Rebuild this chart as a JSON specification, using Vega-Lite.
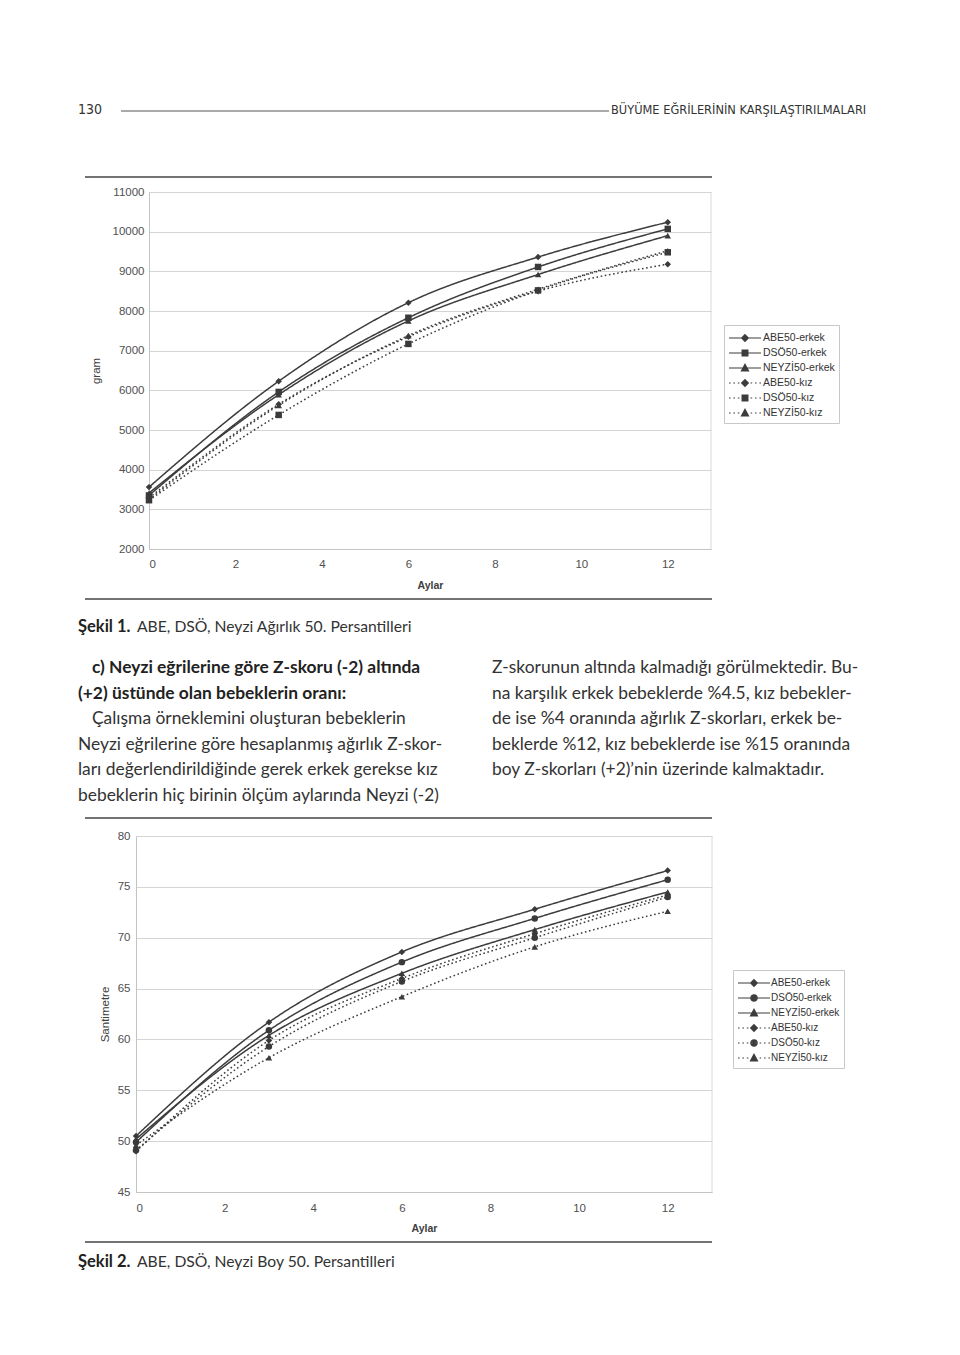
{
  "$schema": "https://vega.github.io/schema/vega-lite/v6.json",
  "width": 960,
  "height": 1355,
  "autosize": {"type": "none"},
  "padding": 0,
  "background": "white",
  "config": {
    "view": {"stroke": null},
    "font": "Liberation Sans",
    "axis": {"labelFont": "Liberation Sans", "titleFont": "Liberation Sans", "labelColor": "#505050", "titleColor": "#404040"}
  },
  "datasets": {
    "agirlik": [
      {"seri": "ABE50-erkek", "kaynak": "ABE", "cinsiyet": "erkek", "ay": 0, "gram": 3560},
      {"seri": "ABE50-erkek", "kaynak": "ABE", "cinsiyet": "erkek", "ay": 3, "gram": 6230},
      {"seri": "ABE50-erkek", "kaynak": "ABE", "cinsiyet": "erkek", "ay": 6, "gram": 8210},
      {"seri": "ABE50-erkek", "kaynak": "ABE", "cinsiyet": "erkek", "ay": 9, "gram": 9360},
      {"seri": "ABE50-erkek", "kaynak": "ABE", "cinsiyet": "erkek", "ay": 12, "gram": 10240},
      {"seri": "DSÖ50-erkek", "kaynak": "DSÖ", "cinsiyet": "erkek", "ay": 0, "gram": 3350},
      {"seri": "DSÖ50-erkek", "kaynak": "DSÖ", "cinsiyet": "erkek", "ay": 3, "gram": 5960},
      {"seri": "DSÖ50-erkek", "kaynak": "DSÖ", "cinsiyet": "erkek", "ay": 6, "gram": 7830},
      {"seri": "DSÖ50-erkek", "kaynak": "DSÖ", "cinsiyet": "erkek", "ay": 9, "gram": 9110},
      {"seri": "DSÖ50-erkek", "kaynak": "DSÖ", "cinsiyet": "erkek", "ay": 12, "gram": 10070},
      {"seri": "NEYZİ50-erkek", "kaynak": "NEYZİ", "cinsiyet": "erkek", "ay": 0, "gram": 3410},
      {"seri": "NEYZİ50-erkek", "kaynak": "NEYZİ", "cinsiyet": "erkek", "ay": 3, "gram": 5890},
      {"seri": "NEYZİ50-erkek", "kaynak": "NEYZİ", "cinsiyet": "erkek", "ay": 6, "gram": 7750},
      {"seri": "NEYZİ50-erkek", "kaynak": "NEYZİ", "cinsiyet": "erkek", "ay": 9, "gram": 8920},
      {"seri": "NEYZİ50-erkek", "kaynak": "NEYZİ", "cinsiyet": "erkek", "ay": 12, "gram": 9900},
      {"seri": "ABE50-kız", "kaynak": "ABE", "cinsiyet": "kız", "ay": 0, "gram": 3290},
      {"seri": "ABE50-kız", "kaynak": "ABE", "cinsiyet": "kız", "ay": 3, "gram": 5650},
      {"seri": "ABE50-kız", "kaynak": "ABE", "cinsiyet": "kız", "ay": 6, "gram": 7350},
      {"seri": "ABE50-kız", "kaynak": "ABE", "cinsiyet": "kız", "ay": 9, "gram": 8500},
      {"seri": "ABE50-kız", "kaynak": "ABE", "cinsiyet": "kız", "ay": 12, "gram": 9180},
      {"seri": "DSÖ50-kız", "kaynak": "DSÖ", "cinsiyet": "kız", "ay": 0, "gram": 3230},
      {"seri": "DSÖ50-kız", "kaynak": "DSÖ", "cinsiyet": "kız", "ay": 3, "gram": 5380},
      {"seri": "DSÖ50-kız", "kaynak": "DSÖ", "cinsiyet": "kız", "ay": 6, "gram": 7170},
      {"seri": "DSÖ50-kız", "kaynak": "DSÖ", "cinsiyet": "kız", "ay": 9, "gram": 8520},
      {"seri": "DSÖ50-kız", "kaynak": "DSÖ", "cinsiyet": "kız", "ay": 12, "gram": 9480},
      {"seri": "NEYZİ50-kız", "kaynak": "NEYZİ", "cinsiyet": "kız", "ay": 0, "gram": 3250},
      {"seri": "NEYZİ50-kız", "kaynak": "NEYZİ", "cinsiyet": "kız", "ay": 3, "gram": 5620},
      {"seri": "NEYZİ50-kız", "kaynak": "NEYZİ", "cinsiyet": "kız", "ay": 6, "gram": 7380},
      {"seri": "NEYZİ50-kız", "kaynak": "NEYZİ", "cinsiyet": "kız", "ay": 9, "gram": 8550},
      {"seri": "NEYZİ50-kız", "kaynak": "NEYZİ", "cinsiyet": "kız", "ay": 12, "gram": 9520}
    ],
    "boy": [
      {"seri": "ABE50-erkek", "kaynak": "ABE", "cinsiyet": "erkek", "ay": 0, "cm": 50.5},
      {"seri": "ABE50-erkek", "kaynak": "ABE", "cinsiyet": "erkek", "ay": 3, "cm": 61.7},
      {"seri": "ABE50-erkek", "kaynak": "ABE", "cinsiyet": "erkek", "ay": 6, "cm": 68.6},
      {"seri": "ABE50-erkek", "kaynak": "ABE", "cinsiyet": "erkek", "ay": 9, "cm": 72.8},
      {"seri": "ABE50-erkek", "kaynak": "ABE", "cinsiyet": "erkek", "ay": 12, "cm": 76.6},
      {"seri": "DSÖ50-erkek", "kaynak": "DSÖ", "cinsiyet": "erkek", "ay": 0, "cm": 49.9},
      {"seri": "DSÖ50-erkek", "kaynak": "DSÖ", "cinsiyet": "erkek", "ay": 3, "cm": 60.9},
      {"seri": "DSÖ50-erkek", "kaynak": "DSÖ", "cinsiyet": "erkek", "ay": 6, "cm": 67.6},
      {"seri": "DSÖ50-erkek", "kaynak": "DSÖ", "cinsiyet": "erkek", "ay": 9, "cm": 71.9},
      {"seri": "DSÖ50-erkek", "kaynak": "DSÖ", "cinsiyet": "erkek", "ay": 12, "cm": 75.7},
      {"seri": "NEYZİ50-erkek", "kaynak": "NEYZİ", "cinsiyet": "erkek", "ay": 0, "cm": 50.2},
      {"seri": "NEYZİ50-erkek", "kaynak": "NEYZİ", "cinsiyet": "erkek", "ay": 3, "cm": 60.4},
      {"seri": "NEYZİ50-erkek", "kaynak": "NEYZİ", "cinsiyet": "erkek", "ay": 6, "cm": 66.5},
      {"seri": "NEYZİ50-erkek", "kaynak": "NEYZİ", "cinsiyet": "erkek", "ay": 9, "cm": 70.8},
      {"seri": "NEYZİ50-erkek", "kaynak": "NEYZİ", "cinsiyet": "erkek", "ay": 12, "cm": 74.5},
      {"seri": "ABE50-kız", "kaynak": "ABE", "cinsiyet": "kız", "ay": 0, "cm": 49.0},
      {"seri": "ABE50-kız", "kaynak": "ABE", "cinsiyet": "kız", "ay": 3, "cm": 59.9},
      {"seri": "ABE50-kız", "kaynak": "ABE", "cinsiyet": "kız", "ay": 6, "cm": 66.0},
      {"seri": "ABE50-kız", "kaynak": "ABE", "cinsiyet": "kız", "ay": 9, "cm": 70.4},
      {"seri": "ABE50-kız", "kaynak": "ABE", "cinsiyet": "kız", "ay": 12, "cm": 74.2},
      {"seri": "DSÖ50-kız", "kaynak": "DSÖ", "cinsiyet": "kız", "ay": 0, "cm": 49.1},
      {"seri": "DSÖ50-kız", "kaynak": "DSÖ", "cinsiyet": "kız", "ay": 3, "cm": 59.3},
      {"seri": "DSÖ50-kız", "kaynak": "DSÖ", "cinsiyet": "kız", "ay": 6, "cm": 65.7},
      {"seri": "DSÖ50-kız", "kaynak": "DSÖ", "cinsiyet": "kız", "ay": 9, "cm": 70.0},
      {"seri": "DSÖ50-kız", "kaynak": "DSÖ", "cinsiyet": "kız", "ay": 12, "cm": 74.0},
      {"seri": "NEYZİ50-kız", "kaynak": "NEYZİ", "cinsiyet": "kız", "ay": 0, "cm": 49.6},
      {"seri": "NEYZİ50-kız", "kaynak": "NEYZİ", "cinsiyet": "kız", "ay": 3, "cm": 58.2},
      {"seri": "NEYZİ50-kız", "kaynak": "NEYZİ", "cinsiyet": "kız", "ay": 6, "cm": 64.2},
      {"seri": "NEYZİ50-kız", "kaynak": "NEYZİ", "cinsiyet": "kız", "ay": 9, "cm": 69.1},
      {"seri": "NEYZİ50-kız", "kaynak": "NEYZİ", "cinsiyet": "kız", "ay": 12, "cm": 72.6}
    ],
    "paragraf": [
      {"sutun": 1, "satir": 1, "tur": "baslik", "ilk": true, "metin": "c) Neyzi eğrilerine göre Z-skoru (-2) altında"},
      {"sutun": 1, "satir": 2, "tur": "baslik", "ilk": false, "metin": "(+2) üstünde olan bebeklerin oranı:"},
      {"sutun": 1, "satir": 3, "tur": "govde", "ilk": true, "metin": "Çalışma örneklemini oluşturan bebeklerin"},
      {"sutun": 1, "satir": 4, "tur": "govde", "ilk": false, "metin": "Neyzi eğrilerine göre hesaplanmış ağırlık Z-skor-"},
      {"sutun": 1, "satir": 5, "tur": "govde", "ilk": false, "metin": "ları değerlendirildiğinde gerek erkek gerekse kız"},
      {"sutun": 1, "satir": 6, "tur": "govde", "ilk": false, "metin": "bebeklerin hiç birinin ölçüm aylarında Neyzi (-2)"},
      {"sutun": 2, "satir": 1, "tur": "govde", "ilk": false, "metin": "Z-skorunun altında kalmadığı görülmektedir. Bu-"},
      {"sutun": 2, "satir": 2, "tur": "govde", "ilk": false, "metin": "na karşılık erkek bebeklerde %4.5, kız bebekler-"},
      {"sutun": 2, "satir": 3, "tur": "govde", "ilk": false, "metin": "de ise %4 oranında ağırlık Z-skorları, erkek be-"},
      {"sutun": 2, "satir": 4, "tur": "govde", "ilk": false, "metin": "beklerde %12, kız bebeklerde ise %15 oranında"},
      {"sutun": 2, "satir": 5, "tur": "govde", "ilk": false, "metin": "boy Z-skorları (+2)’nin üzerinde kalmaktadır."}
    ],
    "sekiller": [
      {"sekil": 1, "etiket": "Şekil 1.", "aciklama": "ABE, DSÖ, Neyzi Ağırlık 50. Persantilleri"},
      {"sekil": 2, "etiket": "Şekil 2.", "aciklama": "ABE, DSÖ, Neyzi Boy 50. Persantilleri"}
    ],
    "sayfa": [
      {"no": "130", "bolum": "BÜYÜME EĞRİLERİNİN KARŞILAŞTIRILMALARI"}
    ]
  },
  "layer": [
    {
      "data": {"name": "sayfa"},
      "layer": [
        {"mark": {"type": "text", "align": "left", "baseline": "middle", "font": "Liberation Sans Narrow, DejaVu Sans Condensed, Liberation Sans, sans-serif", "fontSize": 14, "color": "#333333"},
          "encoding": {"x": {"value": 78}, "y": {"value": 110}, "text": {"field": "no"}}},
        {"mark": {"type": "rule", "stroke": "#555555", "strokeWidth": 1},
          "encoding": {"x": {"value": 121}, "x2": {"value": 609}, "y": {"value": 111}}},
        {"mark": {"type": "text", "align": "left", "baseline": "middle", "font": "Liberation Sans Narrow, DejaVu Sans Condensed, Liberation Sans, sans-serif", "fontSize": 12.7, "color": "#333333"},
          "encoding": {"x": {"value": 611}, "y": {"value": 110}, "text": {"field": "bolum"}}}
      ]
    },
    {
      "data": {"values": [{}]},
      "layer": [
        {"mark": {"type": "rule", "stroke": "#444444", "strokeWidth": 1.5}, "encoding": {"x": {"value": 85}, "x2": {"value": 712}, "y": {"value": 177}}},
        {"mark": {"type": "rule", "stroke": "#444444", "strokeWidth": 1.5}, "encoding": {"x": {"value": 85}, "x2": {"value": 712}, "y": {"value": 599}}},
        {"mark": {"type": "rule", "stroke": "#444444", "strokeWidth": 1.5}, "encoding": {"x": {"value": 85}, "x2": {"value": 712}, "y": {"value": 818}}},
        {"mark": {"type": "rule", "stroke": "#444444", "strokeWidth": 1.5}, "encoding": {"x": {"value": 85}, "x2": {"value": 712}, "y": {"value": 1242}}},
        {"mark": {"type": "rule", "stroke": "#d6d6d6", "strokeWidth": 0.9}, "encoding": {"x": {"value": 711}, "y": {"value": 192}, "y2": {"value": 549}}},
        {"mark": {"type": "rule", "stroke": "#d6d6d6", "strokeWidth": 0.9}, "encoding": {"x": {"value": 712}, "y": {"value": 836}, "y2": {"value": 1192}}}
      ]
    },
    {
      "data": {"name": "agirlik"},
      "encoding": {
        "x": {"field": "ay", "type": "quantitative", "scale": {"domain": [0, 13], "range": [149, 711]},
          "axis": {"orient": "bottom", "offset": -806, "title": "Aylar", "values": [0, 2, 4, 6, 8, 10, 12], "grid": false, "ticks": false, "domainColor": "#c4c4c4", "labelPadding": 9, "labelFontSize": 11.5, "titleFontSize": 10.5, "titleFontWeight": "bold", "titleY": 36, "titleBaseline": "middle"}},
        "y": {"field": "gram", "type": "quantitative", "scale": {"domain": [2000, 11000], "range": [549, 192]},
          "axis": {"orient": "left", "offset": -149, "title": "gram", "format": "d", "values": [2000, 3000, 4000, 5000, 6000, 7000, 8000, 9000, 10000, 11000], "grid": true, "gridColor": "#cfcfcf", "gridWidth": 0.9, "ticks": false, "domainColor": "#c4c4c4", "labelPadding": 5, "labelFontSize": 11.5, "titleFontSize": 11.5, "titleFontWeight": "normal", "titleX": -53, "titleBaseline": "middle"}}
      },
      "layer": [
        {"mark": {"type": "line", "interpolate": "monotone", "color": "#3c3c3c", "strokeWidth": 1.5},
          "encoding": {"detail": {"field": "seri"}, "strokeDash": {"field": "cinsiyet", "type": "nominal", "scale": {"domain": ["erkek", "kız"], "range": [[1, 0], [1.6, 2.6]]}, "legend": null}}},
        {"mark": {"type": "point", "filled": true, "color": "#3a3a3a", "opacity": 1, "size": 42},
          "encoding": {"shape": {"field": "kaynak", "type": "nominal", "scale": {"domain": ["ABE", "DSÖ", "NEYZİ"], "range": ["diamond", "square", "triangle-up"]}, "legend": null}}}
      ]
    },
    {
      "data": {"name": "agirlik"},
      "mark": {"type": "point", "filled": false, "opacity": 0, "color": "#3c3c3c", "strokeWidth": 1.2},
      "encoding": {
        "shape": {"field": "seri", "type": "nominal",
          "scale": {"domain": ["ABE50-erkek", "DSÖ50-erkek", "NEYZİ50-erkek", "ABE50-kız", "DSÖ50-kız", "NEYZİ50-kız"],
            "range": [
              "M-1,0H3M1,-0.42L1.42,0L1,0.42L0.58,0ZM1,-0.26L1.26,0L1,0.26L0.74,0ZM1,-0.1L1.1,0L1,0.1L0.9,0Z",
              "M-1,0H3M0.64,-0.36H1.36V0.36H0.64ZM0.79,-0.21H1.21V0.21H0.79ZM0.94,-0.06H1.06V0.06H0.94Z",
              "M-1,0H3M1,-0.46L1.44,0.36H0.56ZM1,-0.23L1.26,0.26H0.74ZM1,-0.01L1.11,0.16H0.89Z",
              "M-1,0H-0.8M-0.45,0H-0.25M0.1,0H0.3M1.7,0H1.9M2.25,0H2.45M2.8,0H3M1,-0.42L1.42,0L1,0.42L0.58,0ZM1,-0.26L1.26,0L1,0.26L0.74,0ZM1,-0.1L1.1,0L1,0.1L0.9,0Z",
              "M-1,0H-0.8M-0.45,0H-0.25M0.1,0H0.3M1.7,0H1.9M2.25,0H2.45M2.8,0H3M0.64,-0.36H1.36V0.36H0.64ZM0.79,-0.21H1.21V0.21H0.79ZM0.94,-0.06H1.06V0.06H0.94Z",
              "M-1,0H-0.8M-0.45,0H-0.25M0.1,0H0.3M1.7,0H1.9M2.25,0H2.45M2.8,0H3M1,-0.46L1.44,0.36H0.56ZM1,-0.23L1.26,0.26H0.74ZM1,-0.01L1.11,0.16H0.89Z"
            ]},
          "legend": {"orient": "none", "legendX": 724, "legendY": 325, "title": null, "symbolSize": 256, "symbolStrokeColor": "#3c3c3c", "symbolStrokeWidth": 1.2, "symbolOpacity": 1, "labelFont": "Liberation Sans", "labelFontSize": 10.5, "labelColor": "#333333", "labelOffset": 17, "rowPadding": 0, "padding": 4, "strokeColor": "#c8c8c8", "labelLimit": 200,
            "encode": {"symbols": {"stroke": {"value": "#3c3c3c"}, "strokeWidth": {"value": 1.2}, "opacity": {"value": 1}}}}}
      }
    },
    {
      "data": {"name": "boy"},
      "encoding": {
        "x": {"field": "ay", "type": "quantitative", "scale": {"domain": [0, 13], "range": [136, 712]},
          "axis": {"orient": "bottom", "offset": -163, "title": "Aylar", "values": [0, 2, 4, 6, 8, 10, 12], "grid": false, "ticks": false, "domainColor": "#c4c4c4", "labelPadding": 10, "labelFontSize": 11.5, "titleFontSize": 10.5, "titleFontWeight": "bold", "titleY": 36, "titleBaseline": "middle"}},
        "y": {"field": "cm", "type": "quantitative", "scale": {"domain": [45, 80], "range": [1192, 836]},
          "axis": {"orient": "left", "offset": -136, "title": "Santimetre", "values": [45, 50, 55, 60, 65, 70, 75, 80], "grid": true, "gridColor": "#cfcfcf", "gridWidth": 0.9, "ticks": false, "domainColor": "#c4c4c4", "labelPadding": 6, "labelFontSize": 11.5, "titleFontSize": 11.5, "titleFontWeight": "normal", "titleX": -31, "titleBaseline": "middle"}}
      },
      "layer": [
        {"mark": {"type": "line", "interpolate": "monotone", "color": "#3c3c3c", "strokeWidth": 1.5},
          "encoding": {"detail": {"field": "seri"}, "strokeDash": {"field": "cinsiyet", "type": "nominal", "scale": {"domain": ["erkek", "kız"], "range": [[1, 0], [1.6, 2.6]]}, "legend": null}}},
        {"mark": {"type": "point", "filled": true, "color": "#3a3a3a", "opacity": 1, "size": 42},
          "encoding": {"shape": {"field": "kaynak", "type": "nominal", "scale": {"domain": ["ABE", "DSÖ", "NEYZİ"], "range": ["diamond", "circle", "triangle-up"]}, "legend": null}}}
      ]
    },
    {
      "data": {"name": "boy"},
      "mark": {"type": "point", "filled": false, "opacity": 0, "color": "#3c3c3c", "strokeWidth": 1.2},
      "encoding": {
        "shape": {"field": "seri", "type": "nominal",
          "scale": {"domain": ["ABE50-erkek", "DSÖ50-erkek", "NEYZİ50-erkek", "ABE50-kız", "DSÖ50-kız", "NEYZİ50-kız"],
            "range": [
              "M-1,0H3M1,-0.42L1.42,0L1,0.42L0.58,0ZM1,-0.26L1.26,0L1,0.26L0.74,0ZM1,-0.1L1.1,0L1,0.1L0.9,0Z",
              "M-1,0H3M0.6,0A0.4,0.4,0,1,1,1.4,0A0.4,0.4,0,1,1,0.6,0ZM0.76,0A0.24,0.24,0,1,1,1.24,0A0.24,0.24,0,1,1,0.76,0ZM0.92,0A0.08,0.08,0,1,1,1.08,0A0.08,0.08,0,1,1,0.92,0Z",
              "M-1,0H3M1,-0.46L1.44,0.36H0.56ZM1,-0.23L1.26,0.26H0.74ZM1,-0.01L1.11,0.16H0.89Z",
              "M-1,0H-0.8M-0.45,0H-0.25M0.1,0H0.3M1.7,0H1.9M2.25,0H2.45M2.8,0H3M1,-0.42L1.42,0L1,0.42L0.58,0ZM1,-0.26L1.26,0L1,0.26L0.74,0ZM1,-0.1L1.1,0L1,0.1L0.9,0Z",
              "M-1,0H-0.8M-0.45,0H-0.25M0.1,0H0.3M1.7,0H1.9M2.25,0H2.45M2.8,0H3M0.6,0A0.4,0.4,0,1,1,1.4,0A0.4,0.4,0,1,1,0.6,0ZM0.76,0A0.24,0.24,0,1,1,1.24,0A0.24,0.24,0,1,1,0.76,0ZM0.92,0A0.08,0.08,0,1,1,1.08,0A0.08,0.08,0,1,1,0.92,0Z",
              "M-1,0H-0.8M-0.45,0H-0.25M0.1,0H0.3M1.7,0H1.9M2.25,0H2.45M2.8,0H3M1,-0.46L1.44,0.36H0.56ZM1,-0.23L1.26,0.26H0.74ZM1,-0.01L1.11,0.16H0.89Z"
            ]},
          "legend": {"orient": "none", "legendX": 733, "legendY": 970, "title": null, "symbolSize": 256, "symbolStrokeColor": "#3c3c3c", "symbolStrokeWidth": 1.2, "symbolOpacity": 1, "labelFont": "Liberation Sans", "labelFontSize": 10, "labelColor": "#333333", "labelOffset": 16, "rowPadding": 0, "padding": 4, "strokeColor": "#c8c8c8", "labelLimit": 200,
            "encode": {"symbols": {"stroke": {"value": "#3c3c3c"}, "strokeWidth": {"value": 1.2}, "opacity": {"value": 1}}}}}
      }
    },
    {
      "data": {"name": "sekiller"},
      "encoding": {
        "y": {"field": "sekil", "type": "quantitative", "scale": {"domain": [1, 2], "range": [627, 1262]}, "axis": null}
      },
      "layer": [
        {"mark": {"type": "text", "align": "left", "baseline": "middle", "font": "Lato", "fontSize": 16.5, "fontWeight": "bold", "color": "#222222"}, "encoding": {"x": {"value": 78}, "text": {"field": "etiket"}}},
        {"mark": {"type": "text", "align": "left", "baseline": "middle", "font": "Lato", "fontSize": 15.7, "color": "#333333"}, "encoding": {"x": {"value": 137}, "text": {"field": "aciklama"}}}
      ]
    },
    {
      "data": {"name": "paragraf"},
      "encoding": {
        "x": {"field": "sutun", "type": "quantitative", "scale": {"domain": [1, 2], "range": [78, 492]}, "axis": null},
        "y": {"field": "satir", "type": "quantitative", "scale": {"domain": [1, 6], "range": [668, 796]}, "axis": null},
        "text": {"field": "metin"}
      },
      "layer": [
        {"transform": [{"filter": "datum.tur === 'baslik' && datum.ilk"}], "mark": {"type": "text", "align": "left", "baseline": "middle", "dx": 14, "font": "Lato", "fontSize": 17.4, "fontWeight": "bold", "color": "#222222"}},
        {"transform": [{"filter": "datum.tur === 'baslik' && !datum.ilk"}], "mark": {"type": "text", "align": "left", "baseline": "middle", "font": "Lato", "fontSize": 17.4, "fontWeight": "bold", "color": "#222222"}},
        {"transform": [{"filter": "datum.tur === 'govde' && datum.ilk"}], "mark": {"type": "text", "align": "left", "baseline": "middle", "dx": 14, "font": "Lato", "fontSize": 17.4, "color": "#333333"}},
        {"transform": [{"filter": "datum.tur === 'govde' && !datum.ilk"}], "mark": {"type": "text", "align": "left", "baseline": "middle", "font": "Lato", "fontSize": 17.4, "color": "#333333"}}
      ]
    }
  ],
  "resolve": {
    "scale": {"x": "independent", "y": "independent", "shape": "independent", "strokeDash": "independent"},
    "axis": {"x": "independent", "y": "independent"}
  }
}
